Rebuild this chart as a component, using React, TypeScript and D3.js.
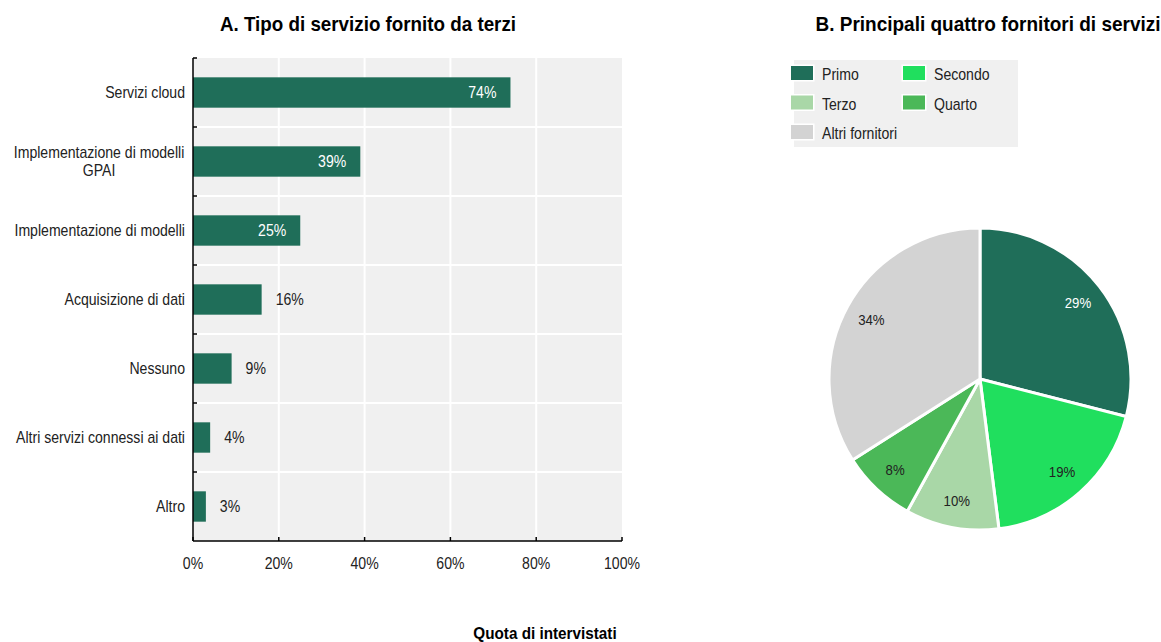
import React from "react";
import * as d3 from "d3";

const categories = [
  "Servizi cloud",
  "Implementazione di modelli GPAI",
  "Implementazione di modelli ",
  "Acquisizione di dati",
  "Nessuno",
  "Altri servizi connessi ai dati",
  "Altro",
];
const categoryLines: string[][] = [
  ["Servizi cloud"],
  ["Implementazione di modelli", "GPAI"],
  ["Implementazione di modelli "],
  ["Acquisizione di dati"],
  ["Nessuno"],
  ["Altri servizi connessi ai dati"],
  ["Altro"],
];
const barValues = [74, 39, 25, 16, 9, 4, 3];
const xTicks = [0, 20, 40, 60, 80, 100];

const pieLabels = ["Primo", "Secondo", "Terzo", "Quarto", "Altri fornitori"];
const pieValues = [29, 19, 10, 8, 34];
const pieColors = ["#1f6e59", "#20df5e", "#a9d7a7", "#4bb858", "#d3d3d3"];
const pieTextColors = ["#ffffff", "#222222", "#222222", "#222222", "#222222"];

const FONT = "'Liberation Sans', Arial, sans-serif";
const BAR_COLOR = "#1f6e59";
const SX = 0.88;

type NTProps = {
  x: number;
  y: number;
  sx?: number;
  size: number;
  anchor?: "start" | "middle" | "end";
  fill?: string;
  bold?: boolean;
  children: React.ReactNode;
};

function NText({ x, y, sx = SX, size, anchor = "start", fill = "#222", bold = false, children }: NTProps) {
  return (
    <text
      transform={`translate(${x},${y}) scale(${sx},1)`}
      dy="0.35em"
      textAnchor={anchor}
      fontSize={size}
      fontWeight={bold ? "bold" : "normal"}
      fill={fill}
    >
      {children}
    </text>
  );
}

export default function App() {
  const left = 193, right = 622, top = 58, bottom = 541;
  const x = d3.scaleLinear().domain([0, 100]).range([left, right]);
  const y = d3.scaleBand<string>().domain(categories).range([top, bottom]).paddingInner(0.56).paddingOuter(0.28);
  const band = d3.scaleBand<string>().domain(categories).range([top, bottom]);

  const cx = 980, cy = 379, r = 151;
  const pie = d3.pie<number>().sort(null).value((d) => d)(pieValues);
  const arc = d3.arc<d3.PieArcDatum<number>>().innerRadius(0).outerRadius(r);
  const labelArc = d3.arc<d3.PieArcDatum<number>>().innerRadius(124).outerRadius(124);

  const legendItems = pieLabels.map((l, i) => ({
    label: l,
    color: pieColors[i],
    col: i === 4 ? 0 : i % 2,
    row: Math.floor(i / 2),
  }));

  return (
    <div style={{ position: "fixed", left: 0, top: 0 }}>
      <svg width={1161} height={642} style={{ display: "block", fontFamily: FONT }}>
        <rect width={1161} height={642} fill="#ffffff" />
        {/* Panel A */}
        <NText x={368} y={24} size={20} sx={0.94} anchor="middle" fill="#000" bold>
          A. Tipo di servizio fornito da terzi
        </NText>
        <rect x={left} y={top} width={right - left} height={bottom - top} fill="#f0f0f0" />
        {xTicks.slice(1, -1).map((t) => (
          <line key={"gx" + t} x1={x(t)} x2={x(t)} y1={top} y2={bottom} stroke="#ffffff" strokeWidth={2} />
        ))}
        {categories.slice(1).map((c) => (
          <line key={"gy" + c} x1={left} x2={right} y1={band(c)!} y2={band(c)!} stroke="#ffffff" strokeWidth={2} />
        ))}
        {categories.map((c, i) => (
          <rect key={"b" + c} x={x(0)} y={y(c)!} width={x(barValues[i]) - x(0)} height={y.bandwidth()} fill={BAR_COLOR} />
        ))}
        {categories.map((c, i) => {
          const inside = barValues[i] >= 20;
          return (
            <NText
              key={"v" + c}
              x={inside ? x(barValues[i]) - 14 : x(barValues[i]) + 14}
              y={y(c)! + y.bandwidth() / 2}
              anchor={inside ? "end" : "start"}
              size={16}
              fill={inside ? "#ffffff" : "#222"}
            >
              {barValues[i]}%
            </NText>
          );
        })}
        {/* axes */}
        <line x1={left} x2={left} y1={top} y2={bottom} stroke="#000" strokeWidth={1.5} />
        {categories.map((c) => (
          <line key={"ty" + c} x1={left} x2={left + 4} y1={band(c)!} y2={band(c)!} stroke="#000" strokeWidth={1.5} />
        ))}
        <line x1={left} x2={right} y1={bottom} y2={bottom} stroke="#000" strokeWidth={1.5} />
        {xTicks.map((t) => (
          <g key={"tx" + t}>
            <line x1={x(t)} x2={x(t)} y1={bottom} y2={bottom - 4} stroke="#000" strokeWidth={1.5} />
            <NText x={x(t)} y={563} anchor="middle" size={16}>
              {t}%
            </NText>
          </g>
        ))}
        {categoryLines.map((lines, i) => {
          const c = categories[i];
          const mid = band(c)! + band.bandwidth() / 2;
          const lh = 18;
          return (
            <g key={"cl" + c}>
              {lines.map((ln, j) => (
                <NText
                  key={j}
                  x={lines.length > 1 ? 99 : 185}
                  y={mid + (j - (lines.length - 1) / 2) * lh}
                  anchor={lines.length > 1 ? "middle" : "end"}
                  size={16}
                >
                  {ln}
                </NText>
              ))}
            </g>
          );
        })}
        <NText x={545} y={633} size={16} sx={0.955} anchor="middle" fill="#000" bold>
          Quota di intervistati
        </NText>

        {/* Panel B */}
        <NText x={988} y={24} size={20} sx={0.95} anchor="middle" fill="#000" bold>
          B. Principali quattro fornitori di servizi
        </NText>
        <rect x={794} y={60} width={224} height={87} fill="#f0f0f0" />
        {legendItems.map((it) => {
          const lx = 791 + it.col * 112;
          const ly = 66 + it.row * 29.5;
          return (
            <g key={"lg" + it.label}>
              <rect x={lx - 1.5} y={ly - 1.5} width={25} height={17} fill="#ffffff" />
              <rect x={lx} y={ly} width={22} height={14} fill={it.color} />
              <NText x={lx + 31} y={ly + 8.5} size={16}>
                {it.label}
              </NText>
            </g>
          );
        })}
        <g transform={`translate(${cx},${cy})`}>
          {pie.map((p, i) => (
            <path key={"p" + i} d={arc(p)!} fill={pieColors[i]} stroke="#ffffff" strokeWidth={3} />
          ))}
          {pie.map((p, i) => {
            const [lx, ly] = labelArc.centroid(p);
            return (
              <NText key={"pl" + i} x={lx} y={ly} anchor="middle" size={15} fill={pieTextColors[i]}>
                {pieValues[i]}%
              </NText>
            );
          })}
        </g>
      </svg>
    </div>
  );
}
